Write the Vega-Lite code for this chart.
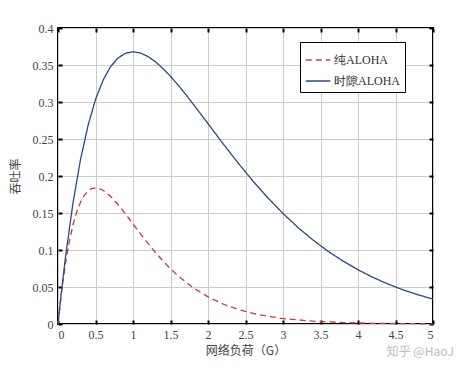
{
  "$schema": "https://vega.github.io/schema/vega-lite/v6.json",
  "width": 375,
  "height": 296,
  "autosize": {"type": "none"},
  "padding": {"left": 58, "top": 28, "right": 33, "bottom": 49},
  "background": "white",
  "config": {
    "font": "Liberation Serif",
    "view": {"stroke": "black", "strokeWidth": 2},
    "axis": {
      "labelFont": "Liberation Serif, Times New Roman, serif",
      "titleFont": "Noto Sans CJK SC",
      "labelFontSize": 12,
      "labelColor": "#444",
      "titleColor": "#444",
      "titleFontSize": 12,
      "titleFontWeight": "normal",
      "domain": false,
      "tickColor": "black",
      "tickWidth": 2,
      "tickSize": -4,
      "gridColor": "#cccccc",
      "gridWidth": 1,
      "labelPadding": 9
    }
  },
  "datasets": {
    "curves": [
      {"G": 0, "S": 0, "s": "纯ALOHA"},
      {"G": 0.05, "S": 0.0452, "s": "纯ALOHA"},
      {"G": 0.1, "S": 0.0819, "s": "纯ALOHA"},
      {"G": 0.15, "S": 0.1111, "s": "纯ALOHA"},
      {"G": 0.2, "S": 0.1341, "s": "纯ALOHA"},
      {"G": 0.25, "S": 0.1516, "s": "纯ALOHA"},
      {"G": 0.3, "S": 0.1646, "s": "纯ALOHA"},
      {"G": 0.35, "S": 0.1738, "s": "纯ALOHA"},
      {"G": 0.4, "S": 0.1797, "s": "纯ALOHA"},
      {"G": 0.45, "S": 0.1830, "s": "纯ALOHA"},
      {"G": 0.5, "S": 0.1839, "s": "纯ALOHA"},
      {"G": 0.55, "S": 0.1831, "s": "纯ALOHA"},
      {"G": 0.6, "S": 0.1807, "s": "纯ALOHA"},
      {"G": 0.7, "S": 0.1726, "s": "纯ALOHA"},
      {"G": 0.8, "S": 0.1615, "s": "纯ALOHA"},
      {"G": 0.9, "S": 0.1488, "s": "纯ALOHA"},
      {"G": 1.0, "S": 0.1353, "s": "纯ALOHA"},
      {"G": 1.1, "S": 0.1219, "s": "纯ALOHA"},
      {"G": 1.2, "S": 0.1089, "s": "纯ALOHA"},
      {"G": 1.3, "S": 0.0966, "s": "纯ALOHA"},
      {"G": 1.4, "S": 0.0851, "s": "纯ALOHA"},
      {"G": 1.5, "S": 0.0747, "s": "纯ALOHA"},
      {"G": 1.6, "S": 0.0652, "s": "纯ALOHA"},
      {"G": 1.8, "S": 0.0492, "s": "纯ALOHA"},
      {"G": 2.0, "S": 0.0366, "s": "纯ALOHA"},
      {"G": 2.2, "S": 0.0270, "s": "纯ALOHA"},
      {"G": 2.4, "S": 0.0198, "s": "纯ALOHA"},
      {"G": 2.6, "S": 0.0143, "s": "纯ALOHA"},
      {"G": 2.8, "S": 0.0104, "s": "纯ALOHA"},
      {"G": 3.0, "S": 0.0074, "s": "纯ALOHA"},
      {"G": 3.4, "S": 0.0038, "s": "纯ALOHA"},
      {"G": 3.8, "S": 0.0019, "s": "纯ALOHA"},
      {"G": 4.2, "S": 0.0009, "s": "纯ALOHA"},
      {"G": 4.6, "S": 0.0005, "s": "纯ALOHA"},
      {"G": 5.0, "S": 0.0002, "s": "纯ALOHA"},
      {"G": 0, "S": 0, "s": "时隙ALOHA"},
      {"G": 0.05, "S": 0.0476, "s": "时隙ALOHA"},
      {"G": 0.1, "S": 0.0905, "s": "时隙ALOHA"},
      {"G": 0.2, "S": 0.1637, "s": "时隙ALOHA"},
      {"G": 0.3, "S": 0.2222, "s": "时隙ALOHA"},
      {"G": 0.4, "S": 0.2681, "s": "时隙ALOHA"},
      {"G": 0.5, "S": 0.3033, "s": "时隙ALOHA"},
      {"G": 0.6, "S": 0.3293, "s": "时隙ALOHA"},
      {"G": 0.7, "S": 0.3476, "s": "时隙ALOHA"},
      {"G": 0.8, "S": 0.3595, "s": "时隙ALOHA"},
      {"G": 0.9, "S": 0.3659, "s": "时隙ALOHA"},
      {"G": 1.0, "S": 0.3679, "s": "时隙ALOHA"},
      {"G": 1.1, "S": 0.3662, "s": "时隙ALOHA"},
      {"G": 1.2, "S": 0.3614, "s": "时隙ALOHA"},
      {"G": 1.3, "S": 0.3543, "s": "时隙ALOHA"},
      {"G": 1.4, "S": 0.3452, "s": "时隙ALOHA"},
      {"G": 1.5, "S": 0.3347, "s": "时隙ALOHA"},
      {"G": 1.6, "S": 0.3230, "s": "时隙ALOHA"},
      {"G": 1.7, "S": 0.3106, "s": "时隙ALOHA"},
      {"G": 1.8, "S": 0.2975, "s": "时隙ALOHA"},
      {"G": 1.9, "S": 0.2842, "s": "时隙ALOHA"},
      {"G": 2.0, "S": 0.2707, "s": "时隙ALOHA"},
      {"G": 2.2, "S": 0.2438, "s": "时隙ALOHA"},
      {"G": 2.4, "S": 0.2177, "s": "时隙ALOHA"},
      {"G": 2.6, "S": 0.1931, "s": "时隙ALOHA"},
      {"G": 2.8, "S": 0.1703, "s": "时隙ALOHA"},
      {"G": 3.0, "S": 0.1494, "s": "时隙ALOHA"},
      {"G": 3.2, "S": 0.1304, "s": "时隙ALOHA"},
      {"G": 3.4, "S": 0.1135, "s": "时隙ALOHA"},
      {"G": 3.6, "S": 0.0984, "s": "时隙ALOHA"},
      {"G": 3.8, "S": 0.0850, "s": "时隙ALOHA"},
      {"G": 4.0, "S": 0.0733, "s": "时隙ALOHA"},
      {"G": 4.2, "S": 0.0630, "s": "时隙ALOHA"},
      {"G": 4.4, "S": 0.0540, "s": "时隙ALOHA"},
      {"G": 4.6, "S": 0.0462, "s": "时隙ALOHA"},
      {"G": 4.8, "S": 0.0395, "s": "时隙ALOHA"},
      {"G": 5.0, "S": 0.0337, "s": "时隙ALOHA"}
    ],
    "mark": [{"G": 4.83, "S": -0.0378, "t": "知乎 @HaoJ"}]
  },
  "layer": [
    {
      "data": {"name": "curves"},
      "mark": {"type": "line", "strokeWidth": 1.3},
      "encoding": {
        "x": {
          "field": "G", "type": "quantitative",
          "scale": {"domain": [0, 5], "nice": false},
          "axis": {"values": [0, 0.5, 1, 1.5, 2, 2.5, 3, 3.5, 4, 4.5, 5], "format": "~g", "title": "网络负荷（G）", "titlePadding": 5}
        },
        "y": {
          "field": "S", "type": "quantitative",
          "scale": {"domain": [0, 0.4], "nice": false},
          "axis": {"values": [0, 0.05, 0.1, 0.15, 0.2, 0.25, 0.3, 0.35, 0.4], "format": "~g", "title": "吞吐率", "titlePadding": 10}
        },
        "color": {
          "field": "s", "type": "nominal",
          "scale": {"domain": ["纯ALOHA", "时隙ALOHA"], "range": ["#cc3a3a", "#2b4a7e"]},
          "legend": {
            "title": null,
            "orient": "none",
            "legendX": 242,
            "legendY": 14,
            "fillColor": "white",
            "strokeColor": "black",
            "padding": 5,
            "symbolType": "stroke",
            "symbolSize": 600,
            "symbolStrokeWidth": 1.3,
            "labelFont": "Liberation Serif",
            "labelFontSize": 12,
            "labelColor": "#333",
            "rowPadding": 2,
            "labelOffset": 3
          }
        },
        "strokeDash": {
          "field": "s", "type": "nominal",
          "scale": {"domain": ["纯ALOHA", "时隙ALOHA"], "range": [[6, 4], [1, 0]]},
          "legend": null
        }
      }
    },
    {
      "data": {"name": "curves"},
      "mark": {"type": "point", "opacity": 0},
      "encoding": {
        "x": {"field": "G", "type": "quantitative", "axis": {"orient": "top", "values": [0, 0.5, 1, 1.5, 2, 2.5, 3, 3.5, 4, 4.5, 5], "labels": false, "grid": false, "title": null}},
        "y": {"field": "S", "type": "quantitative", "axis": {"orient": "right", "values": [0, 0.05, 0.1, 0.15, 0.2, 0.25, 0.3, 0.35, 0.4], "labels": false, "grid": false, "title": null}}
      }
    },
    {
      "data": {"name": "mark"},
      "mark": {"type": "text", "clip": false, "font": "Noto Sans CJK SC", "fontSize": 12, "color": "#bdbdbd"},
      "encoding": {
        "x": {"field": "G", "type": "quantitative", "axis": null},
        "y": {"field": "S", "type": "quantitative", "axis": null},
        "text": {"field": "t"}
      }
    }
  ],
  "resolve": {"axis": {"x": "independent", "y": "independent"}}
}
